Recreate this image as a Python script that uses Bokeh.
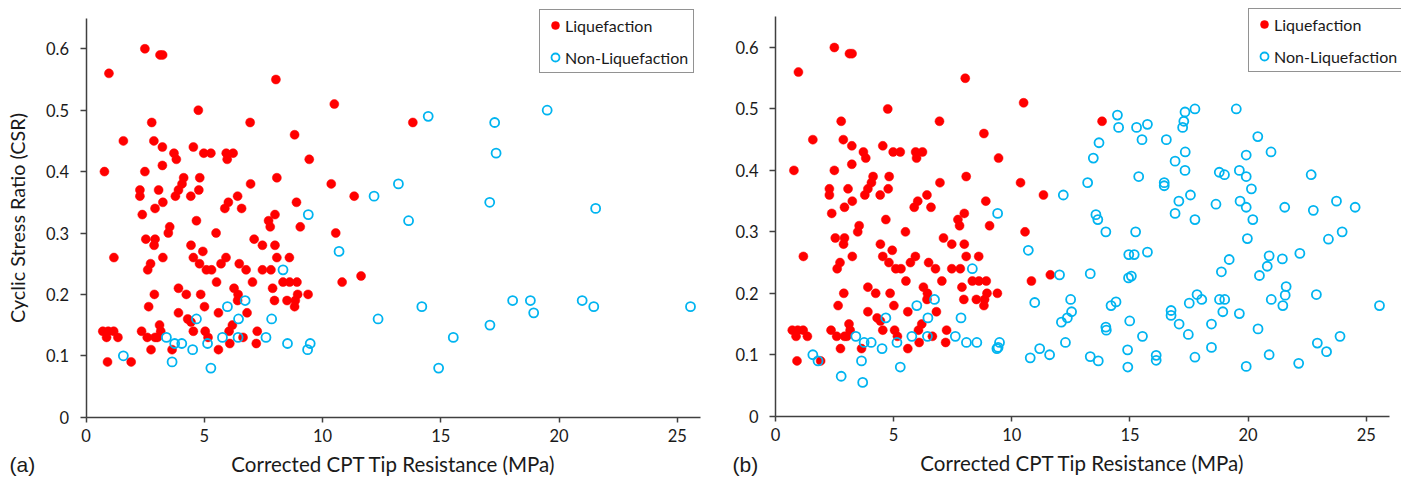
from bokeh.plotting import figure
from bokeh.models import (ColumnDataSource, FixedTicker, CustomJSTickFormatter, Legend,
                          LegendItem, Label, Range1d)
from bokeh.layouts import row
from bokeh.embed import file_html
from bokeh.resources import INLINE

# ---------------- data ----------------
liq_x = [2.49, 3.13, 3.24, 0.97, 8.03, 10.5, 4.75, 2.78, 6.94, 8.82, 1.58, 2.87, 3.23, 4.54,
         3.72, 3.82, 4.98, 5.28, 5.93, 6.22, 5.97, 9.44, 0.78, 2.49, 3.23, 4.13, 4.81, 8.07,
         4.06, 6.96, 10.37, 2.28, 3.07, 3.91, 4.77, 2.28, 3.78, 4.43, 6.41, 11.34, 2.92, 3.25,
         6.02, 5.87, 6.58, 8.9, 2.38, 7.99, 4.67, 7.72, 7.79, 9.06, 3.54, 3.48, 5.5, 10.56,
         2.53, 2.92, 7.11,
         2.88, 7.46, 7.99, 4.44, 1.18, 3.25, 4.54, 5.92, 8.07, 8.6, 4.94, 6.48, 4.8, 5.71,
         2.73, 2.61, 5.09, 5.31, 6.77, 7.46, 7.82, 5.52, 7.04, 8.33, 8.61, 8.92, 10.83, 3.91,
         7.89, 6.26, 2.89, 4.24, 4.85, 6.43, 8.95, 9.39, 6.41, 7.97, 8.5, 8.85, 8.82, 2.65,
         5.01, 3.91, 5.6, 6.81, 4.3, 4.44, 6.19, 3.11, 4.54, 5.04, 6.05, 7.24, 0.71, 0.94,
         1.17, 0.87, 1.35, 2.35, 2.59, 2.92, 3.02, 3.16, 5.16, 6.64, 2.75, 3.64, 5.6, 6.08,
         7.2, 0.91, 1.91, 13.82, 11.63]
liq_y = [0.60, 0.59, 0.59, 0.56, 0.55, 0.51, 0.50, 0.48, 0.48, 0.46, 0.45, 0.45, 0.44, 0.44,
         0.43, 0.42, 0.43, 0.43, 0.43, 0.43, 0.42, 0.42, 0.40, 0.40, 0.41, 0.39, 0.39, 0.39,
         0.38, 0.38, 0.38, 0.37, 0.37, 0.37, 0.37, 0.36, 0.36, 0.36, 0.36, 0.36, 0.34, 0.35,
         0.35, 0.34, 0.34, 0.35, 0.33, 0.33, 0.32, 0.32, 0.31, 0.31, 0.31, 0.30, 0.30, 0.30,
         0.29, 0.29, 0.29,
         0.28, 0.28, 0.28, 0.28, 0.26, 0.26, 0.26, 0.26, 0.26, 0.26, 0.27, 0.25, 0.25, 0.25,
         0.25, 0.24, 0.24, 0.24, 0.24, 0.24, 0.24, 0.22, 0.22, 0.22, 0.22, 0.22, 0.22, 0.21,
         0.21, 0.21, 0.20, 0.20, 0.20, 0.20, 0.20, 0.20, 0.19, 0.19, 0.19, 0.19, 0.18, 0.18,
         0.18, 0.17, 0.17, 0.17, 0.16, 0.155, 0.15, 0.15, 0.14, 0.14, 0.14, 0.14, 0.14, 0.14,
         0.14, 0.13, 0.13, 0.14, 0.13, 0.13, 0.13, 0.14, 0.13, 0.13, 0.11, 0.11, 0.11, 0.12,
         0.12, 0.09, 0.09, 0.48, 0.23]

# non-liquefaction cases of panel (a)
nonliq_x = [1.58, 3.4, 3.75, 4.05, 3.64, 4.51, 4.67, 5.14, 5.28, 5.77, 5.98, 6.45, 6.43, 6.73,
            7.61, 7.85, 8.33, 8.52, 9.37, 9.48, 10.7, 9.4,
            14.47, 17.28, 19.5, 17.34, 13.21, 12.18, 13.64, 17.07, 21.55,
            12.35, 14.2, 15.53, 14.91, 17.08, 18.04, 18.79, 18.93, 20.98, 21.47, 25.56]
nonliq_y = [0.10, 0.13, 0.12, 0.12, 0.09, 0.11, 0.16, 0.12, 0.08, 0.13, 0.18, 0.16, 0.13, 0.19,
            0.13, 0.16, 0.24, 0.12, 0.11, 0.12, 0.27, 0.33,
            0.49, 0.48, 0.50, 0.43, 0.38, 0.36, 0.32, 0.35, 0.34,
            0.16, 0.18, 0.13, 0.08, 0.15, 0.19, 0.19, 0.17, 0.19, 0.18, 0.18]

# additional non-liquefaction cases shown in panel (b)
extra_x = [1.8, 2.78, 3.69, 8.08, 9.42, 10.97, 10.78, 11.18, 11.6,
           14.52, 15.28, 15.74, 15.51, 13.69, 13.45, 15.37, 16.45, 16.45, 16.54, 17.33, 17.75,
           17.23, 16.91, 17.33, 20.41, 20.97, 19.92, 18.78, 19.0, 19.63, 19.92, 20.14, 22.67,
           17.56, 16.91, 17.75, 18.64, 19.66, 19.92, 20.2, 22.76, 23.74, 24.53, 23.98, 23.4,
           13.56, 13.98, 15.24, 19.97,
           14.95, 15.18, 15.74, 14.94, 15.06, 13.32, 12.02, 12.49, 12.53, 12.1, 12.27, 14.41,
           13.98, 14.0, 13.32, 13.66, 14.9, 14.99, 16.11, 16.11, 16.74, 16.74, 17.51, 17.84,
           17.47, 17.75, 18.45, 18.45, 19.01, 18.87, 19.2, 19.63, 19.92, 20.42, 20.48, 20.81,
           20.89, 21.45, 21.61, 21.57, 20.89, 22.19, 22.89, 22.93, 23.32, 22.14, 23.89]
extra_y = [0.09, 0.065, 0.055, 0.12, 0.112, 0.185, 0.095, 0.11, 0.10,
           0.47, 0.47, 0.475, 0.45, 0.445, 0.42, 0.39, 0.38, 0.375, 0.45, 0.495, 0.50,
           0.47, 0.415, 0.40, 0.455, 0.43, 0.425, 0.397, 0.393, 0.40, 0.39, 0.37, 0.393,
           0.36, 0.33, 0.32, 0.345, 0.35, 0.34, 0.32, 0.335, 0.35, 0.34, 0.30, 0.288,
           0.328, 0.30, 0.30, 0.289,
           0.263, 0.263, 0.267, 0.225, 0.228, 0.232, 0.23, 0.19, 0.17, 0.153, 0.12, 0.186,
           0.145, 0.14, 0.097, 0.09, 0.108, 0.155, 0.099, 0.091, 0.172, 0.164, 0.184, 0.198,
           0.133, 0.096, 0.15, 0.112, 0.19, 0.235, 0.255, 0.167, 0.081, 0.142, 0.229, 0.244,
           0.261, 0.256, 0.211, 0.197, 0.10, 0.265, 0.198, 0.119, 0.105, 0.086, 0.13]

x_ticks = [0, 5, 10, 15, 20, 25]
y_ticks = [0, 0.1, 0.2, 0.3, 0.4, 0.5, 0.6]
x_title = "Corrected CPT Tip Resistance (MPa)"
y_title = "Cyclic Stress Ratio (CSR)"
legend_labels = ["Liquefaction", "Non-Liquefaction"]

# ---------------- styling ----------------
FONT = "Lato"
TAG_FONT = "Liberation Sans"
RED = "#FF0000"
CYAN = "#00B4F0"
AXIS = "#404040"
TEXT = "#1a1a1a"
H = 480
X_MAX, Y_MAX = 26, 0.65


def make_panel(width, x0px, px_per_x, y0px, px_per_y, nx, ny, show_ylabel, tag, tag_x,
               legend_vx, legend_vy):
    # the whole canvas is the frame; axes sit at x=0 / y=0 with fixed locations
    xr = Range1d(-x0px / px_per_x, (width - x0px) / px_per_x)
    yr = Range1d((y0px - H) / px_per_y, y0px / px_per_y)
    p = figure(width=width, height=H, x_range=xr, y_range=yr,
               output_backend="svg", toolbar_location=None, min_border=0)
    p.grid.visible = False
    p.outline_line_color = None
    p.background_fill_color = "white"
    p.border_fill_color = "white"

    src_l = ColumnDataSource(data=dict(x=liq_x, y=liq_y))
    src_n = ColumnDataSource(data=dict(x=nx, y=ny))
    r_l = p.scatter("x", "y", source=src_l, marker="circle", size=9,
                    fill_color=RED, line_color=RED, line_width=0.5)
    r_n = p.scatter("x", "y", source=src_n, marker="circle", size=9,
                    fill_color=None, line_color=CYAN, line_width=1.8)

    xa = p.xaxis[0]
    ya = p.yaxis[0]
    xa.fixed_location = 0
    ya.fixed_location = 0
    xa.bounds = (0, X_MAX)
    ya.bounds = (0, Y_MAX)
    xa.ticker = FixedTicker(ticks=x_ticks)
    ya.ticker = FixedTicker(ticks=y_ticks)
    ya.formatter = CustomJSTickFormatter(
        code="var s = tick.toFixed(1); return s == '0.0' ? '0' : s;")
    for ax in (xa, ya):
        ax.axis_line_color = AXIS
        ax.axis_line_width = 1.5
        ax.major_tick_line_color = AXIS
        ax.major_tick_line_width = 1.5
        ax.major_tick_in = 0
        ax.minor_tick_line_color = None
        ax.major_label_text_font = FONT
        ax.major_label_text_font_size = "16.5px"
        ax.major_label_text_color = TEXT
        ax.axis_label_text_font = FONT
        ax.axis_label_text_font_style = "normal"
        ax.axis_label_text_color = TEXT
    xa.axis_label_text_font_size = "20.5px"
    ya.axis_label_text_font_size = "19.8px"
    xa.major_tick_out = 5
    xa.major_label_standoff = 7
    xa.axis_label_standoff = 6
    xa.axis_label = x_title
    ya.major_tick_out = 6
    ya.major_label_standoff = 11
    ya.axis_label_standoff = 14
    if show_ylabel:
        ya.axis_label = y_title

    legend = Legend(items=[LegendItem(label=legend_labels[0], renderers=[r_l]),
                           LegendItem(label=legend_labels[1], renderers=[r_n])],
                    location=(legend_vx, legend_vy), orientation="vertical",
                    border_line_color="#262626", border_line_width=1.8,
                    background_fill_color="white", background_fill_alpha=1.0,
                    padding=5, spacing=12, margin=0,
                    glyph_width=20, glyph_height=20, label_height=20, label_standoff=0,
                    label_text_font=FONT, label_text_font_size="16px",
                    label_text_color=TEXT)
    p.add_layout(legend)

    lab = Label(x=tag_x, y=H - 464, x_units="screen", y_units="screen",
                text=tag, text_font=TAG_FONT, text_font_size="21px", text_color=TEXT,
                text_baseline="middle", text_align="left")
    p.add_layout(lab)
    return p


p1 = make_panel(704, 85.5, 23.65, 416.7, 614.0, nonliq_x, nonliq_y, True, "(a)", 9,
                539, H - 73)
p2 = make_panel(697, 71.0, 23.63, 415.7, 614.5, nonliq_x + extra_x, nonliq_y + extra_y,
                False, "(b)", 28, 544, H - 72)

layout = row(p1, p2)
open("out.html", "w").write(file_html(layout, INLINE))
